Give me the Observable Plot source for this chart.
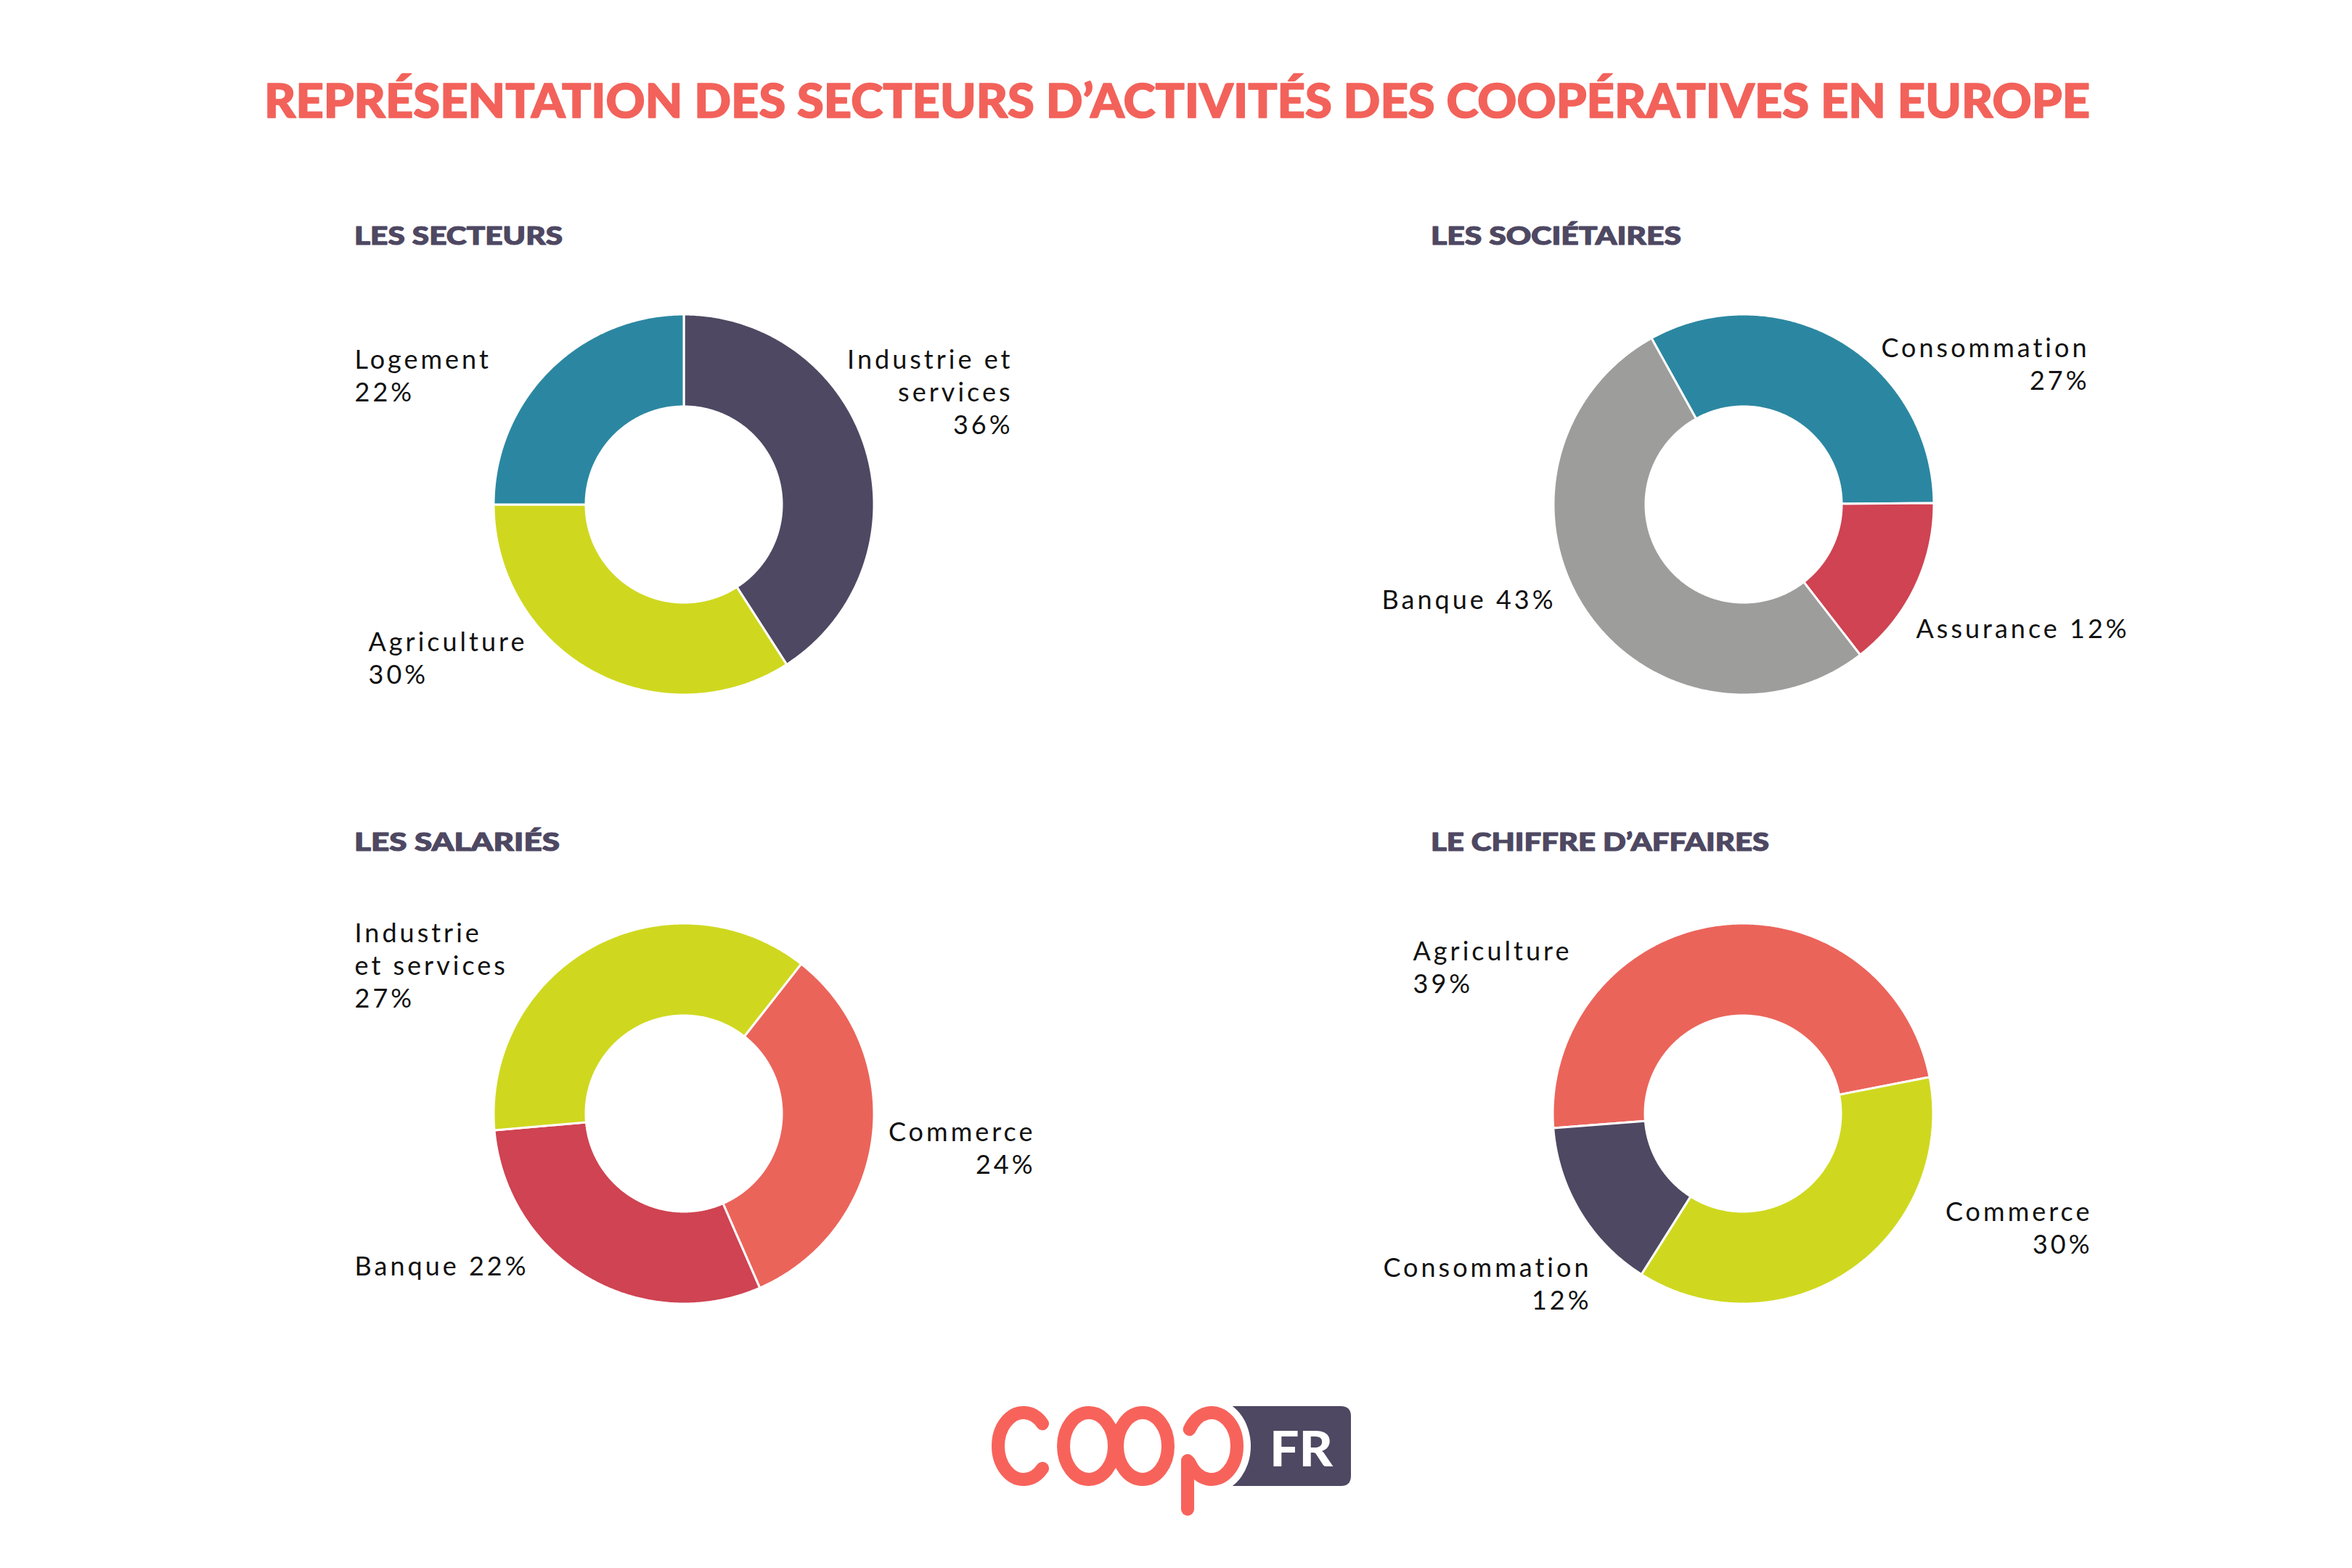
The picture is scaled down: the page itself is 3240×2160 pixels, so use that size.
<!DOCTYPE html>
<html><head><meta charset="utf-8">
<script src="https://cdn.jsdelivr.net/npm/d3@7"></script>
<script src="https://cdn.jsdelivr.net/npm/@observablehq/plot@0.6"></script>
<style>
html,body{margin:0;padding:0;background:#fff;}
#page{position:relative;width:3240px;height:2160px;overflow:hidden;background:#fff;}
.panel{position:absolute;}
#overlay{position:absolute;left:0;top:0;}
</style></head><body><div id="page"></div>
<script>
// ---------- data ----------
const mainTitle = "REPRÉSENTATION DES SECTEURS D’ACTIVITÉS DES COOPÉRATIVES EN EUROPE";
const chartTitles = ["LES SECTEURS", "LES SOCIÉTAIRES", "LES SALARIÉS", "LE CHIFFRE D’AFFAIRES"];

const secteursCategories = ["Industrie et services", "Agriculture", "Logement"];
const secteursValues = [36, 30, 22];
const secteursLabels = ["Industrie et\nservices", "Agriculture", "Logement"];

const societairesCategories = ["Consommation", "Assurance", "Banque"];
const societairesValues = [27, 12, 43];
const societairesLabels = ["Consommation", "Assurance", "Banque"];

const salariesCategories = ["Commerce", "Banque", "Industrie et services"];
const salariesValues = [24, 22, 27];
const salariesLabels = ["Commerce", "Banque", "Industrie\net services"];

const caCategories = ["Agriculture", "Commerce", "Consommation"];
const caValues = [39, 30, 12];
const caLabels = ["Agriculture", "Commerce", "Consommation"];

// ---------- styles / layout ----------
const C = {
  purple: "#4e4862", yellow: "#cfd81f", teal: "#2b87a1", gray: "#9d9d9b",
  crimson: "#cf4352", coral: "#eb645a", title: "#f2625a", logo: "#f7635b"
};
const R = 262, r = 135;            // donut radii (px)
const W = 1200, H = 720;           // panel size
const labelFont = "Lato";
const charts = [
  {title: chartTitles[0], cats: secteursCategories, vals: secteursValues, names: secteursLabels,
   colors: [C.purple, C.yellow, C.teal], start: 0, cx: 942, cy: 695, hx: 488, hy: 337,
   sep: ["\n", "\n", "\n"], pos: [[453, -98, "end"], [-435, 246, "start"], [-454, -143, "start"]]},
  {title: chartTitles[1], cats: societairesCategories, vals: societairesValues, names: societairesLabels,
   colors: [C.teal, C.crimson, C.gray], start: -29, cx: 2402, cy: 695, hx: 1971, hy: 337,
   sep: ["\n", " ", " "], pos: [[476, -159, "end"], [237, 183, "start"], [-499, 143, "start"]]},
  {title: chartTitles[2], cats: salariesCategories, vals: salariesValues, names: salariesLabels,
   colors: [C.coral, C.crimson, C.yellow], start: 38.1, cx: 942, cy: 1534, hx: 488, hy: 1172,
   sep: ["\n", " ", "\n"], pos: [[484, 82, "end"], [-454, 222, "start"], [-454, -147, "start"]]},
  {title: chartTitles[3], cats: caCategories, vals: caValues, names: caLabels,
   colors: [C.coral, C.yellow, C.purple], start: -94.4, cx: 2401, cy: 1534, hx: 1971, hy: 1172,
   sep: ["\n", "\n", "\n"], pos: [[-455, -167, "start"], [481, 192, "end"], [-209, 269, "end"]]}
];
const headingLengths = [287, 345, 283, 466];

const page = document.getElementById("page");

// ---------- overlay: title, headings, logo ----------
const svg = d3.select(page).append("svg").attr("id", "overlay")
  .attr("width", 3240).attr("height", 2160);
svg.append("text").text(mainTitle)
  .attr("x", 364).attr("y", 162).attr("textLength", 2515).attr("lengthAdjust", "spacingAndGlyphs")
  .attr("font-family", "Lato").attr("font-weight", 900).attr("font-size", 65).attr("fill", C.title)
  .attr("stroke", C.title).attr("stroke-width", 1.6).attr("stroke-linejoin", "round");
charts.forEach((c, i) => {
  svg.append("text").text(c.title)
    .attr("x", c.hx).attr("y", c.hy).attr("textLength", headingLengths[i]).attr("lengthAdjust", "spacingAndGlyphs")
    .attr("font-family", "Lato").attr("font-weight", 900).attr("font-size", 35).attr("fill", C.purple)
    .attr("stroke", C.purple).attr("stroke-width", 1.2).attr("stroke-linejoin", "round");
});

// logo
const g = svg.append("g");
const sw = 18, erx = 35, ery = 46;
g.append("path").attr("d", "M1640,1937 H1847 Q1861,1937 1861,1951 V2033 Q1861,2047 1847,2047 H1640 Z").attr("fill", C.purple);
g.append("ellipse").attr("cx", 1669).attr("cy", 1992).attr("rx", erx + sw / 2 + 10).attr("ry", ery + sw / 2 + 10).attr("fill", "#fff");
function ep(cx, cy, deg) { const t = deg * Math.PI / 180; return [cx + erx * Math.cos(t), cy + ery * Math.sin(t)]; }
const stroke = (sel) => sel.attr("fill", "none").attr("stroke", C.logo).attr("stroke-width", sw).attr("stroke-linecap", "round");
{ const a = ep(1410, 1992, -42), b = ep(1410, 1992, 42);
  g.append("path").attr("d", `M${a} A${erx},${ery} 0 1 0 ${b}`).call(stroke); }
g.append("ellipse").attr("cx", 1500).attr("cy", 1992).attr("rx", erx).attr("ry", ery).call(stroke);
g.append("ellipse").attr("cx", 1574).attr("cy", 1992).attr("rx", erx).attr("ry", ery).call(stroke);
{ const a = ep(1669, 1992, -150), b = ep(1669, 1992, 150);
  g.append("path").attr("d", `M${a} A${erx},${ery} 0 1 1 ${b}`).call(stroke);
  g.append("path").attr("d", "M1636,2012 V2079").call(stroke); }
g.append("text").text("FR").attr("x", 1749).attr("y", 2020).attr("textLength", 87).attr("lengthAdjust", "spacingAndGlyphs")
  .attr("font-family", "Lato").attr("font-weight", 900).attr("font-size", 66).attr("fill", "#fff");

// ---------- donuts ----------
charts.forEach(c => {
  const rows = c.cats.map((cat, i) => ({category: cat, value: c.vals[i]}));
  const a0 = c.start * Math.PI / 180;
  const arcs = d3.pie().sort(null).value(d => d.value).startAngle(a0).endAngle(a0 + 2 * Math.PI)(rows);
  const ring = arcs.flatMap(a => {
    const n = Math.max(2, Math.ceil((a.endAngle - a.startAngle) / (Math.PI / 360)));
    return d3.range(n + 1).map(k => {
      const t = a.startAngle + (a.endAngle - a.startAngle) * k / n;
      return {category: a.data.category, ox: Math.sin(t) * R, oy: -Math.cos(t) * R, ix: Math.sin(t) * r, iy: -Math.cos(t) * r};
    });
  });
  const labels = rows.map((d, i) => ({
    text: c.names[i] + c.sep[i] + d.value + "%",
    x: c.pos[i][0], y: c.pos[i][1], anchor: c.pos[i][2]
  }));
  const textOpts = {x: "x", y: "y", text: "text", lineAnchor: "bottom", lineHeight: 1.25,
    fontSize: 36, fontFamily: labelFont, fill: "#111"};
  const plot = Plot.plot({
    width: W, height: H, margin: 0,
    x: {domain: [-W / 2, W / 2], range: [0, W], axis: null},
    y: {domain: [-H / 2, H / 2], range: [0, H], axis: null},
    color: {domain: c.cats, range: c.colors},
    style: {background: "transparent", overflow: "visible", letterSpacing: "4px"},
    marks: [
      Plot.area(ring, {x1: "ox", y1: "oy", x2: "ix", y2: "iy", z: "category", fill: "category", stroke: "#fff", strokeWidth: 3}),
      Plot.text(labels, {...textOpts, filter: d => d.anchor === "start", textAnchor: "start"}),
      Plot.text(labels, {...textOpts, filter: d => d.anchor === "end", textAnchor: "end"})
    ]
  });
  plot.classList.add("panel");
  plot.style.left = (c.cx - W / 2) + "px";
  plot.style.top = (c.cy - H / 2) + "px";
  page.appendChild(plot);
});
</script></body></html>
